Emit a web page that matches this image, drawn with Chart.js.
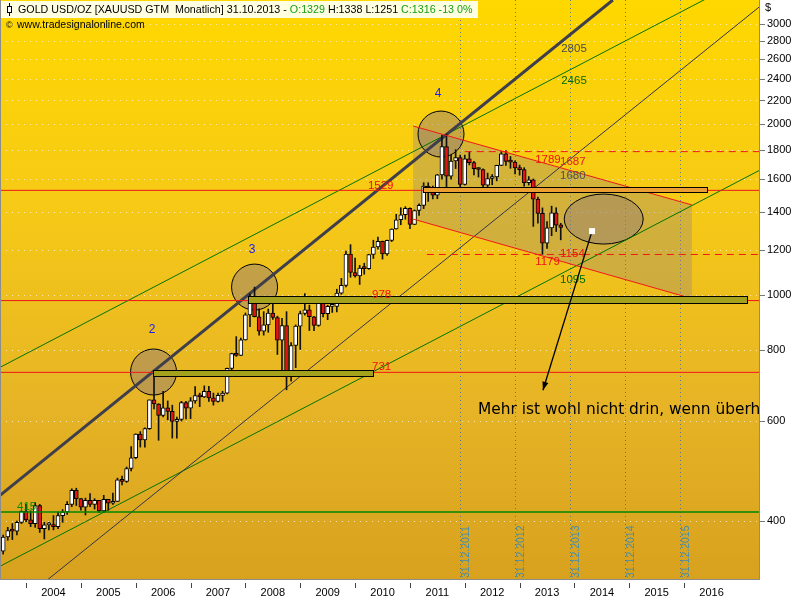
<!DOCTYPE html>
<html>
<head>
<meta charset="utf-8">
<title>GOLD USD/OZ Monatlich</title>
<script src="https://cdn.jsdelivr.net/npm/chart.js@4.4.1/dist/chart.umd.min.js"></script>
<style>
html,body{margin:0;padding:0;background:#ffffff;overflow:hidden;}
#wrap{width:800px;height:600px;position:relative;}
canvas{display:block;}
</style>
</head>
<body>
<div id="wrap"><canvas id="chart" width="800" height="600"></canvas></div>
<script>
// ---------- data ----------
const months = [
 '2003-08','2003-09','2003-10','2003-11','2003-12',
 '2004-01','2004-02','2004-03','2004-04','2004-05','2004-06','2004-07','2004-08','2004-09','2004-10','2004-11','2004-12',
 '2005-01','2005-02','2005-03','2005-04','2005-05','2005-06','2005-07','2005-08','2005-09','2005-10','2005-11','2005-12',
 '2006-01','2006-02','2006-03','2006-04','2006-05','2006-06','2006-07','2006-08','2006-09','2006-10','2006-11','2006-12',
 '2007-01','2007-02','2007-03','2007-04','2007-05','2007-06','2007-07','2007-08','2007-09','2007-10','2007-11','2007-12',
 '2008-01','2008-02','2008-03','2008-04','2008-05','2008-06','2008-07','2008-08','2008-09','2008-10','2008-11','2008-12',
 '2009-01','2009-02','2009-03','2009-04','2009-05','2009-06','2009-07','2009-08','2009-09','2009-10','2009-11','2009-12',
 '2010-01','2010-02','2010-03','2010-04','2010-05','2010-06','2010-07','2010-08','2010-09','2010-10','2010-11','2010-12',
 '2011-01','2011-02','2011-03','2011-04','2011-05','2011-06','2011-07','2011-08','2011-09','2011-10','2011-11','2011-12',
 '2012-01','2012-02','2012-03','2012-04','2012-05','2012-06','2012-07','2012-08','2012-09','2012-10','2012-11','2012-12',
 '2013-01','2013-02','2013-03','2013-04','2013-05','2013-06','2013-07','2013-08','2013-09','2013-10'
];
const opens = [
 354,375,385,384,398,
 416,402,396,426,388,394,394,391,409,415,428,453,
 438,423,435,428,435,417,437,430,433,473,470,495,
 517,569,556,582,654,643,614,633,624,599,604,647,
 632,651,665,662,677,659,650,666,672,743,789,783,
 834,923,972,916,864,886,930,913,833,884,718,815,
 882,928,942,916,884,979,927,955,955,1008,1040,1181,
 1096,1081,1116,1113,1179,1215,1244,1181,1248,1307,1357,1385,
 1421,1332,1409,1439,1556,1536,1500,1628,1826,1620,1722,1746,
 1566,1738,1711,1669,1664,1561,1604,1614,1692,1773,1719,1714,
 1675,1663,1578,1595,1476,1393,1234,1313,1396,1329
];
const highs = [
 378,390,396,400,417,
 428,417,431,428,398,398,409,415,419,433,456,457,
 438,439,447,438,435,444,437,448,476,480,498,541,
 570,575,584,654,730,644,677,651,640,610,650,650,
 660,690,672,692,691,672,672,677,744,790,845,840,
 930,1005,1033,946,935,945,988,918,910,935,825,886,
 937,1006,960,917,982,989,960,966,1024,1070,1195,1227,
 1162,1128,1138,1180,1249,1265,1245,1250,1308,1388,1425,1431,
 1424,1412,1448,1577,1577,1556,1632,1913,1921,1764,1803,1764,
 1764,1790,1720,1676,1668,1640,1630,1693,1790,1796,1754,1723,
 1694,1676,1617,1601,1488,1424,1347,1434,1425,1338
];
const lows = [
 350,370,371,378,396,
 399,391,390,382,372,386,386,388,398,411,424,426,
 418,410,424,420,414,414,418,428,433,463,468,490,
 515,540,540,580,630,555,610,603,560,560,600,605,
 606,645,636,660,650,640,648,650,670,723,780,782,
 833,880,915,850,850,860,906,786,736,681,705,745,
 802,922,866,866,881,915,905,932,934,1003,1034,1075,
 1075,1044,1088,1110,1160,1205,1157,1175,1242,1306,1330,1360,
 1309,1330,1381,1420,1462,1477,1478,1600,1535,1600,1670,1523,
 1562,1695,1627,1614,1527,1540,1564,1589,1690,1692,1672,1635,
 1626,1555,1562,1321,1338,1180,1208,1272,1294,1251
];
const closes = [
 375,385,384,398,416,
 402,396,426,388,394,394,391,409,415,428,453,438,
 423,435,428,435,417,437,430,433,473,470,495,517,
 569,556,582,654,643,614,633,624,599,604,647,632,
 651,665,662,677,659,650,666,672,743,789,783,834,
 923,972,916,864,886,930,913,833,884,718,815,882,
 928,942,916,884,979,927,955,955,1008,1040,1181,1096,
 1081,1116,1113,1179,1215,1244,1181,1248,1307,1357,1385,1421,
 1332,1409,1439,1556,1536,1500,1628,1826,1620,1722,1746,1566,
 1738,1711,1669,1664,1561,1604,1614,1692,1773,1719,1714,1675,
 1663,1578,1595,1476,1393,1234,1313,1396,1327,1316
];
const yearLabels = ['2004','2005','2006','2007','2008','2009','2010','2011','2012','2013','2014','2015','2016'];
const yTickValues = [400,600,800,1000,1200,1400,1600,1800,2000,2200,2400,2600,2800,3000];

// trend lines: [monthIndex (0 = Jan 2004), price]
const thickTrend  = [[-5.7, 444], [128.4, 3308]];
const thinTrend   = [[-5.7, 270], [160.6, 3224]];
const greenUpper  = [[-5.7, 746], [160.6, 3726]];
const greenLower  = [[-5.7, 333], [160.6, 1660]];
const flagUpper   = [[84.7, 1985], [145.7, 1441]];
const flagLower   = [[84.7, 1361], [145.7, 986]];
const redLevels   = [1529, 978, 731];
const greenLevels = [415];
const dashedLevels = [1789, 1179];
const dashedFrom   = [96, 87.7];
// zones (month range, price range)
const zoneMonths = [[27.8, 75.9], [48.6, 157.8], [86.9, 149]];
const zonePrices = [[720, 737], [968, 995], [1519, 1550]];
const yearEnds = [95, 107, 119, 131, 143];
const yearEndLabels = ['31.12.2011','31.12.2012','31.12.2013','31.12.2014','31.12.2015'];
// circles (month, price)
const circleT = [27.9, 50.0, 90.8];
const circleV = [732, 1033, 1921];
const circleNums = ['2','3','4'];
const circleNumT = [27.6, 49.45, 90.15];
const circleNumV = [868, 1200, 2260];
const targetT = 126.4, targetV = 1361;
const arrowFrom = [123.85, 1296], arrowTo = [113.1, 680];
// value labels
const labelTexts = ['2805','2465','1789','1687','1680','1154','1179','1095','1529','978','731','415'];
const labelT = [117.1,117.1,111.4,116.85,116.85,116.85,111.4,116.85,74.8,75.7,75.7,-1.97];
const labelV = [2712,2382,1729,1715,1620,1181,1143,1063,1556,1000,747,423];

const X_MIN = -5.7, X_MAX = 160.6, Y_MIN = 315, Y_MAX = 3308;

// ---------- helpers ----------
const tOf = m => (parseInt(m.slice(0,4),10) - 2004) * 12 + parseInt(m.slice(5,7),10) - 1;
const labelColors = ['#4a4a4a','#006a00','#f01010','#e02020','#505050','#f01010','#f01010','#006a00','#f01010','#f01010','#f01010','#008c00'];

function seg(pts, color, width, dash, order) {
  return { type: 'line', data: pts.map(p => ({x: p[0], y: p[1]})), borderColor: color, borderWidth: width,
    borderDash: dash || [], pointRadius: 0, pointHoverRadius: 0, fill: false, tension: 0, order: order };
}

const wickData = months.map((m, i) => ({x: tOf(m), y: [lows[i], highs[i]]}));
const bodyData = months.map((m, i) => ({x: tOf(m), y: [Math.min(opens[i], closes[i]), Math.max(opens[i], closes[i])]}));
const bodyColors = months.map((m, i) => closes[i] < opens[i] ? '#e31414' : '#ffffff');

const datasets = [
  { type: 'bar', data: bodyData, backgroundColor: bodyColors, borderColor: '#000', borderWidth: 1,
    borderSkipped: false, barThickness: 4, minBarLength: 2, grouped: false, order: 0 },
  { type: 'bar', data: wickData, backgroundColor: '#111', borderWidth: 0, barThickness: 1, grouped: false, order: 1 },
  seg(thickTrend, '#3e3e4c', 3, null, 5),
  seg(thinTrend, '#343446', 1, null, 5),
  seg(greenUpper, '#007400', 1, null, 5),
  seg(greenLower, '#007400', 1, null, 5),
  seg(flagUpper, '#f01818', 1, null, -1),
  seg(flagLower, '#f01818', 1, null, -1)
];
redLevels.forEach(v => datasets.push(seg([[X_MIN, v], [X_MAX, v]], '#f01818', 1, null, -1)));
greenLevels.forEach(v => datasets.push(seg([[X_MIN, v], [X_MAX, v]], '#008800', 1.5, null, -1)));
dashedLevels.forEach((v, i) => datasets.push(seg([[dashedFrom[i], v], [X_MAX, v]], '#f01818', 1, [7, 5], -1)));

function clipArea(ctx, a) { ctx.beginPath(); ctx.rect(a.left, a.top, a.right - a.left, a.bottom - a.top); ctx.clip(); }

const annot = {
  id: 'annot',
  beforeDraw(chart) {
    const {ctx, chartArea: a} = chart;
    ctx.save();
    ctx.fillStyle = '#ffffff'; ctx.fillRect(0, 0, chart.width, chart.height);
    const g = ctx.createLinearGradient(0, a.top, 0, a.bottom);
    g.addColorStop(0, '#FFD800'); g.addColorStop(0.35, '#F6CA16');
    g.addColorStop(0.7, '#E6B426'); g.addColorStop(1, '#D8A11E');
    ctx.fillStyle = g; ctx.fillRect(a.left, a.top, a.right - a.left, a.bottom - a.top);
    ctx.restore();
  },
  beforeDatasetsDraw(chart) {
    const {ctx, chartArea: a} = chart; const xs = chart.scales.x, ys = chart.scales.y;
    const X = t => xs.getPixelForValue(t), Y = v => ys.getPixelForValue(v);
    ctx.save(); clipArea(ctx, a);
    // year-end dotted lines
    ctx.strokeStyle = 'rgba(70,115,150,0.9)'; ctx.lineWidth = 1; ctx.setLineDash([1, 3]);
    yearEnds.forEach(t => { const x = Math.round(X(t)) + 0.5; ctx.beginPath(); ctx.moveTo(x, a.top); ctx.lineTo(x, a.bottom); ctx.stroke(); });
    ctx.setLineDash([]);
    // flag shading
    const poly = [[flagUpper[0][0], flagUpper[0][1]], [flagUpper[1][0], flagUpper[1][1]], [flagLower[1][0], flagLower[1][1]], [flagLower[0][0], flagLower[0][1]]];
    ctx.beginPath();
    poly.forEach((p, i) => { const x = X(p[0]), y = Y(p[1]); if (i) ctx.lineTo(x, y); else ctx.moveTo(x, y); });
    ctx.closePath(); ctx.fillStyle = 'rgba(140,128,135,0.33)'; ctx.fill();
    // circles
    ctx.lineWidth = 1; ctx.strokeStyle = '#000';
    circleT.forEach((t, i) => {
      ctx.beginPath(); ctx.arc(X(t), Y(circleV[i]), 23, 0, Math.PI * 2);
      ctx.fillStyle = 'rgba(140,120,125,0.45)'; ctx.fill(); ctx.stroke();
    });
    ctx.beginPath(); ctx.ellipse(X(targetT), Y(targetV), 39.5, 25, 0, 0, Math.PI * 2);
    ctx.fillStyle = 'rgba(140,120,125,0.40)'; ctx.fill(); ctx.stroke();
    ctx.restore();
  },
  afterDatasetsDraw(chart) {
    const {ctx, chartArea: a} = chart; const xs = chart.scales.x, ys = chart.scales.y;
    const X = t => xs.getPixelForValue(t), Y = v => ys.getPixelForValue(v);
    ctx.save(); clipArea(ctx, a);
    // zones
    const zoneFill = ['#a4a21c', '#a4a21c', '#eb9f30'];
    zoneMonths.forEach((m, i) => {
      const x1 = Math.round(X(m[0])) + 0.5, x2 = Math.round(X(m[1])) + 0.5;
      const y1 = Math.round(Y(zonePrices[i][1])) + 0.5, y2 = Math.round(Y(zonePrices[i][0])) + 0.5;
      ctx.fillStyle = zoneFill[i]; ctx.fillRect(x1, y1, x2 - x1, y2 - y1);
      ctx.strokeStyle = '#000'; ctx.lineWidth = 1; ctx.strokeRect(x1, y1, x2 - x1, y2 - y1);
    });
    // value labels
    ctx.font = '11.5px "Liberation Sans", Arial, sans-serif'; ctx.textBaseline = 'middle'; ctx.textAlign = 'left';
    labelTexts.forEach((s, i) => { ctx.fillStyle = labelColors[i]; ctx.fillText(s, X(labelT[i]), Y(labelV[i])); });
    // wave numbers
    ctx.font = '12px "Liberation Sans", Arial, sans-serif'; ctx.textAlign = 'center'; ctx.fillStyle = '#1c1cf0';
    circleNums.forEach((s, i) => ctx.fillText(s, X(circleNumT[i]), Y(circleNumV[i])));
    // arrow
    const ax1 = X(arrowFrom[0]), ay1 = Y(arrowFrom[1]), ax2 = X(arrowTo[0]), ay2 = Y(arrowTo[1]);
    ctx.strokeStyle = '#000'; ctx.lineWidth = 1.3;
    ctx.beginPath(); ctx.moveTo(ax1, ay1); ctx.lineTo(ax2, ay2); ctx.stroke();
    const ang = Math.atan2(ay2 - ay1, ax2 - ax1);
    ctx.beginPath(); ctx.moveTo(ax2, ay2);
    ctx.lineTo(ax2 - 9 * Math.cos(ang - 0.35), ay2 - 9 * Math.sin(ang - 0.35));
    ctx.lineTo(ax2 - 9 * Math.cos(ang + 0.35), ay2 - 9 * Math.sin(ang + 0.35));
    ctx.closePath(); ctx.fillStyle = '#000'; ctx.fill();
    ctx.fillStyle = '#ffffff'; ctx.fillRect(ax1 - 3, ay1 - 3, 6, 6);
    // comment
    ctx.font = '15.4px "DejaVu Sans", Verdana, sans-serif'; ctx.textAlign = 'left'; ctx.fillStyle = '#000';
    ctx.fillText('Mehr ist wohl nicht drin, wenn überhaupt', X(98.9), Y(627));
    // year-end labels
    ctx.font = '10.5px "Liberation Sans", Arial, sans-serif'; ctx.fillStyle = '#3e8cb2'; ctx.textBaseline = 'top';
    yearEnds.forEach((t, i) => {
      ctx.save(); ctx.translate(Math.round(X(t)) + 1, a.bottom - 2); ctx.rotate(-Math.PI / 2);
      ctx.fillText(yearEndLabels[i], 0, 0); ctx.restore();
    });
    ctx.restore();
  },
  afterDraw(chart) {
    const {ctx, chartArea: a} = chart; const xs = chart.scales.x;
    ctx.save();
    // frame
    ctx.strokeStyle = '#8c8c8c'; ctx.lineWidth = 1;
    ctx.beginPath(); ctx.moveTo(a.left + 0.5, a.top); ctx.lineTo(a.left + 0.5, a.bottom - 0.5);
    ctx.lineTo(a.right - 0.5, a.bottom - 0.5); ctx.lineTo(a.right - 0.5, a.top); ctx.stroke();
    // year tick marks
    ctx.strokeStyle = '#444';
    yearLabels.forEach((y, k) => { const x = Math.round(xs.getPixelForValue(12 * k)) + 0.5;
      ctx.beginPath(); ctx.moveTo(x, a.bottom + 3); ctx.lineTo(x, a.bottom + 8); ctx.stroke(); });
    // $ label
    ctx.fillStyle = '#000'; ctx.font = '11px "Liberation Sans", Arial, sans-serif'; ctx.textBaseline = 'middle'; ctx.textAlign = 'left';
    ctx.fillText('$', a.right + 5, 8);
    // title box
    ctx.fillStyle = '#ffffe2'; ctx.fillRect(1, 1, 477, 17);
    const fam = '"Liberation Sans", Arial, sans-serif';
    const segs = [['GOLD USD/OZ [XAUUSD GTM  Monatlich] 31.10.2013 - ', '#000'], ['O:1329', '#13a013'],
      [' H:1338 L:1251 ', '#000'], ['C:1316 -13 0%', '#13a013']];
    const full = segs.map(s => s[0]).join('');
    ctx.font = '11px ' + fam; const w0 = ctx.measureText(full).width; const fs = 11 * 455 / w0;
    ctx.font = fs.toFixed(2) + 'px ' + fam; ctx.textBaseline = 'middle';
    let x = 18; segs.forEach(s => { ctx.fillStyle = s[1]; ctx.fillText(s[0], x, 10.5); x += ctx.measureText(s[0]).width; });
    // candle icon
    ctx.strokeStyle = '#000'; ctx.lineWidth = 1;
    ctx.beginPath(); ctx.moveTo(9.5, 3); ctx.lineTo(9.5, 16); ctx.stroke();
    ctx.fillStyle = '#fff'; ctx.fillRect(7.5, 6.5, 4, 6); ctx.strokeRect(7.5, 6.5, 4, 6);
    // url line
    ctx.fillStyle = '#000';
    ctx.font = '9px ' + fam; ctx.fillText('©', 6, 25.5);
    ctx.font = '11px ' + fam; const wu = ctx.measureText('www.tradesignalonline.com').width;
    ctx.font = (11 * 128 / wu).toFixed(2) + 'px ' + fam; ctx.fillText('www.tradesignalonline.com', 17, 25.5);
    ctx.restore();
  }
};

Chart.defaults.font.family = '"Liberation Sans", Arial, sans-serif';
new Chart(document.getElementById('chart'), {
  type: 'bar',
  data: { datasets: datasets },
  options: {
    responsive: false, animation: false, devicePixelRatio: 1,
    layout: { padding: 0 },
    plugins: { legend: { display: false }, tooltip: { enabled: false } },
    events: [],
    scales: {
      x: {
        type: 'linear', min: X_MIN, max: X_MAX, offset: false,
        afterBuildTicks: s => { s.ticks = yearLabels.map((y, i) => ({ value: 6 + 12 * i })); },
        afterFit: s => { s.height = 20; s.paddingLeft = 0; s.paddingRight = 0; },
        ticks: { callback: (v, i) => yearLabels[i], color: '#000', font: { size: 11 }, padding: 6, maxRotation: 0, autoSkip: false },
        grid: { display: false, drawTicks: false, offset: false },
        border: { display: false }
      },
      y: {
        type: 'logarithmic', position: 'right', min: Y_MIN, max: Y_MAX,
        afterBuildTicks: s => { s.ticks = yTickValues.map(v => ({ value: v })); },
        afterFit: s => { s.width = 40; s.paddingTop = 0; s.paddingBottom = 0; },
        ticks: { callback: v => String(v), color: '#000', font: { size: 11 }, padding: 2, autoSkip: false },
        grid: { color: 'rgba(255,250,225,0.75)', lineWidth: 1, drawTicks: true, tickLength: 5, tickColor: '#777', tickWidth: 1, tickBorderDash: [] },
        border: { display: false, dash: [1, 5] }
      }
    }
  },
  plugins: [annot]
});
</script>
</body>
</html>
